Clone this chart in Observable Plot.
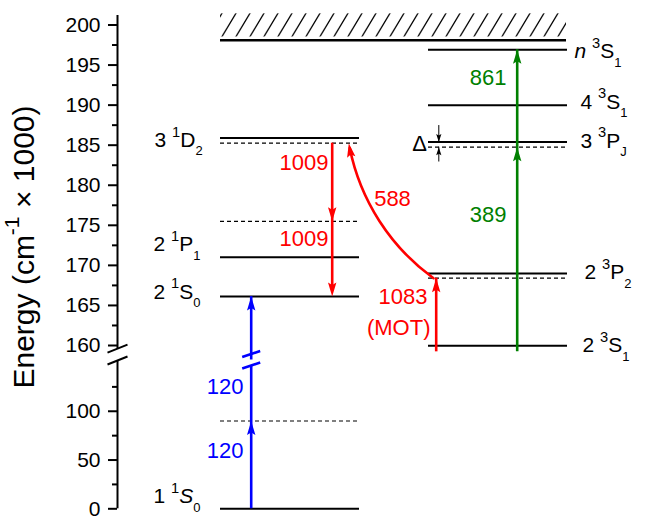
<!DOCTYPE html>
<html><head><meta charset="utf-8">
<script src="https://cdn.jsdelivr.net/npm/d3@7"></script>
<script src="https://cdn.jsdelivr.net/npm/@observablehq/plot@0.6"></script>
<style>body{margin:0;background:#fff} svg{display:block}</style>
</head><body><div id="chart"></div>
<script>
// ---------- data (energies in units of 1000 cm^-1) ----------
const singletStates   = ["1 ^1~S~_0", "2 ^1S_0", "2 ^1P_1", "3 ^1D_2"];
const singletEnergies = [0, 166.1, 171.0, 185.9];
const singletDashed   = [90, 175.5, 185.25];
const tripletStates   = ["2 ^3S_1", "2 ^3P_2", "3 ^3P_J", "4 ^3S_1", "~n~ ^3S_1"];
const tripletEnergies = [159.8, 169.0, 185.4, 190.0, 196.9];
const tripletDashed   = [168.4, 184.75];
const ionizationEnergy = 198.1;
const continuumTop = 201.4;
const wavelengths = ["120", "120", "1009", "1009", "588", "1083", "(MOT)", "389", "861"];
const majorTicks = [0, 50, 100, 160, 165, 170, 175, 180, 185, 190, 195, 200];
const minorTicks = [25, 75, 125, 162.5, 167.5, 172.5, 177.5, 182.5, 187.5, 192.5, 197.5];
const yTitle = "Energy (cm^-^1 \u00d7 1000)";

// ---------- layout ----------
// broken energy axis: lower part 0–150, upper part 160–200
const brokenAxis = d3.scaleLinear().domain([0, 150, 160, 200]).range([508.3, 362, 345, 24.5]);
const col = {singlet: [220, 359], triplet: [428, 567], continuum: [220, 566]};
const axisX = 117;
const colors = {blue: "#0000ff", red: "#ff0000", green: "#008000"};

const levels = [
  ...singletEnergies.map((E, i) => ({E, x1: col.singlet[0], x2: col.singlet[1], state: singletStates[i]})),
  ...tripletEnergies.map((E, i) => ({E, x1: col.triplet[0], x2: col.triplet[1], state: tripletStates[i]}))
];
const dashed = [
  ...singletDashed.map(E => ({E, x1: col.singlet[0], x2: col.singlet[1]})),
  ...tripletDashed.map(E => ({E, x1: col.triplet[0], x2: col.triplet[1]}))
];
const labelPlace = [ // x, energy of label centre
  [153, 12.6], [153, 166.7], [153, 172.6], [154, 185.6],
  [582, 160.0], [584, 169.1], [580, 185.5], [580, 190.4], [574, 196.7]
];
const levelLabels = levels.map((d, i) => ({text: d.state, x: labelPlace[i][0], E: labelPlace[i][1]}));

const xBlue = 250.7, xRed1 = 331.7, xRed2 = 435.7, xGreen = 516.7;
const segPlain = [{x: xBlue, y1: 0, y2: 146.9, color: colors.blue}];
const segUp = [
  {x: xBlue, y1: 155, y2: singletEnergies[1], color: colors.blue},
  {x: xRed2, y1: tripletEnergies[0], y2: tripletDashed[0], color: colors.red},
  {x: xGreen, y1: tripletEnergies[0], y2: tripletEnergies[4], color: colors.green}
];
const segDown = [{x: xRed1, y1: singletDashed[2], y2: singletEnergies[1], color: colors.red}];
const heads = [
  {x: xBlue, E: singletDashed[0], rot: 0, color: colors.blue},
  {x: xBlue, E: singletEnergies[1], rot: 0, color: colors.blue},
  {x: xRed1, E: singletDashed[1], rot: 180, color: colors.red},
  {x: xRed1, E: singletEnergies[1], rot: 180, color: colors.red},
  {x: xRed2, E: tripletDashed[0], rot: 0, color: colors.red},
  {x: xGreen, E: tripletDashed[1], rot: 0, color: colors.green},
  {x: xGreen, E: tripletEnergies[4], rot: 0, color: colors.green},
  {x: 348.3, E: singletDashed[2], rot: -10, color: colors.red}
];
const curve = [{x1: 433, y1: tripletDashed[0], x2: 348.3, y2: singletDashed[2]}];
const blueBreaks = [{x: xBlue, E: 155}, {x: xBlue, E: 146.9}];
const axisBreaks = [{x: axisX, E: 158.2}, {x: axisX, E: 151.2}];
const axisLines = [{y1: 158.2, y2: continuumTop - 0.2}, {y1: 0, y2: 151.2}];
const deltaX = 438.3;
const deltaSegs = [{y1: 187.45, y2: tripletEnergies[2]}, {y1: 182.9, y2: tripletDashed[1]}];
const deltaHeads = [{E: tripletEnergies[2], rot: 180}, {E: tripletDashed[1], rot: 0}];

const numLabels = [
  {text: wavelengths[0], x: 243, E: 125.4, color: colors.blue},
  {text: wavelengths[1], x: 243, E: 59.8, color: colors.blue},
  {text: wavelengths[2], x: 328, E: 182.8, color: colors.red},
  {text: wavelengths[3], x: 328, E: 173.3, color: colors.red},
  {text: wavelengths[5], x: 427, E: 166.0, color: colors.red},
  {text: wavelengths[6], x: 430, E: 162.2, color: colors.red},
  {text: wavelengths[7], x: 506, E: 176.3, color: colors.green},
  {text: wavelengths[8], x: 506, E: 193.4, color: colors.green}
];
const midLabels = [
  {text: wavelengths[4], x: 392, E: 178.3, color: colors.red},
  {text: "\u0394", x: 419, E: 185.1, color: "black"}
];

const headSymbol = {draw(c) { c.moveTo(0, 0); c.lineTo(4.2, 14); c.lineTo(0, 11.5); c.lineTo(-4.2, 14); c.closePath(); }};
const smallHead = {draw(c) { c.moveTo(0, 0); c.lineTo(2.6, 8); c.lineTo(0, 6.5); c.lineTo(-2.6, 8); c.closePath(); }};
const slashSymbol = {draw(c) { c.moveTo(-9, 3); c.lineTo(9, -3); }};
const axisSlash = {draw(c) { c.moveTo(-10, 4); c.lineTo(10, -4); }};

const plot = Plot.plot({
  width: 645, height: 517,
  marginLeft: axisX, marginRight: 0, marginTop: 0, marginBottom: 0,
  x: {domain: [axisX, 645], axis: null},
  y: {type: "linear", transform: (E) => brokenAxis(E), domain: [517, 0], range: [517, 0], axis: null},
  color: {type: "identity"},
  style: {fontFamily: "'Liberation Sans', Arial, sans-serif", color: "black", background: "white"},
  marks: [
    Plot.rect([{x1: col.continuum[0], x2: col.continuum[1], y1: ionizationEnergy + 0.4, y2: continuumTop}],
      {x1: "x1", x2: "x2", y1: "y1", y2: "y2", fill: "url(#hatch)"}),
    Plot.ruleY([{E: ionizationEnergy, x1: col.continuum[0], x2: col.continuum[1]}], {y: "E", x1: "x1", x2: "x2", stroke: "black", strokeWidth: 2.5}),
    Plot.ruleY(levels, {y: "E", x1: "x1", x2: "x2", stroke: "black", strokeWidth: 2}),
    Plot.ruleY(dashed, {y: "E", x1: "x1", x2: "x2", stroke: "black", strokeWidth: 1.2, strokeDasharray: "4,3"}),
    // broken energy axis
    Plot.ruleX(axisLines, {x: axisX, y1: "y1", y2: "y2", stroke: "black", strokeWidth: 2}),
    Plot.ruleY(majorTicks, {y: (d) => d, x1: axisX - 9, x2: axisX, stroke: "black", strokeWidth: 2}),
    Plot.ruleY(minorTicks, {y: (d) => d, x1: axisX - 5, x2: axisX, stroke: "black", strokeWidth: 2}),
    Plot.text(majorTicks, {y: (d) => d, x: axisX - 17, text: (d) => String(d), textAnchor: "end", fontSize: 21, fill: "black"}),
    Plot.dot(axisBreaks, {x: "x", y: "E", symbol: axisSlash, stroke: "black", fill: "none", strokeWidth: 2}),
    Plot.text([yTitle], {frameAnchor: "left", textAnchor: "middle", dx: -93, dy: -12, rotate: -90, fontSize: 30}),
    // transitions
    Plot.ruleX(segPlain, {x: "x", y1: "y1", y2: "y2", stroke: "color", strokeWidth: 2.6}),
    Plot.ruleX(segUp, {x: "x", y1: "y1", y2: "y2", stroke: "color", strokeWidth: 2.6, insetTop: 6}),
    Plot.ruleX(segDown, {x: "x", y1: "y1", y2: "y2", stroke: "color", strokeWidth: 2.6, insetBottom: 6}),
    Plot.arrow(curve, {x1: "x1", y1: "y1", x2: "x2", y2: "y2", bend: 22, headLength: 0, insetEnd: 5, stroke: colors.red, strokeWidth: 2.6}),
    Plot.dot(heads, {x: "x", y: "E", symbol: headSymbol, fill: "color", stroke: null, rotate: "rot"}),
    Plot.dot(blueBreaks, {x: "x", y: "E", symbol: slashSymbol, stroke: colors.blue, fill: "none", strokeWidth: 2.6}),
    // delta marker
    Plot.ruleX(deltaSegs, {x: deltaX, y1: "y1", y2: "y2", stroke: "black", strokeWidth: 1}),
    Plot.dot(deltaHeads, {x: deltaX, y: "E", symbol: smallHead, fill: "black", stroke: null, rotate: "rot"}),
    // labels
    Plot.text(levelLabels, {x: "x", y: "E", text: "text", textAnchor: "start", fontSize: 21, fill: "black"}),
    Plot.text(numLabels, {x: "x", y: "E", text: "text", textAnchor: "end", fontSize: 22, fill: "color"}),
    Plot.text(midLabels, {x: "x", y: "E", text: "text", textAnchor: "middle", fontSize: 22, fill: "color"})
  ]
});
document.getElementById("chart").appendChild(plot);

// hatch pattern for the continuum
const hTop = brokenAxis(continuumTop), hBot = brokenAxis(ionizationEnergy + 0.4);
const h = hBot - hTop;
const pat = d3.select(plot).insert("defs", ":first-child").append("pattern")
  .attr("id", "hatch").attr("patternUnits", "userSpaceOnUse")
  .attr("x", 222).attr("y", hTop).attr("width", 14).attr("height", h);
pat.append("path").attr("d", `M0,${h}L14,0M-14,${h}L0,0M14,${h}L28,0`)
  .attr("stroke", "black").attr("stroke-width", 1.3).attr("fill", "none");

// rich text: ^x superscript, _x subscript, ~...~ italic
d3.select(plot).selectAll("text").each(function () {
  const s = this.textContent;
  if (!/[\^_~]/.test(s)) return;
  const fs = parseFloat(getComputedStyle(this).fontSize) || 20;
  this.textContent = "";
  let shift = 0, italic = false;
  for (let i = 0; i < s.length; i++) {
    let ch = s[i];
    if (ch === "~") { italic = !italic; continue; }
    let mode = "n";
    if (ch === "^" || ch === "_") { mode = ch; ch = s[++i]; }
    const target = mode === "^" ? -0.5 * fs : mode === "_" ? 0.4 * fs : 0;
    const t = document.createElementNS("http://www.w3.org/2000/svg", "tspan");
    if (Math.abs(target - shift) > 0.01) t.setAttribute("dy", (target - shift).toFixed(2));
    shift = target;
    if (mode === "^") t.setAttribute("font-size", (0.7 * fs).toFixed(1));
    if (mode === "_") t.setAttribute("font-size", (0.62 * fs).toFixed(1));
    if (italic) t.setAttribute("font-style", "italic");
    t.textContent = ch;
    this.appendChild(t);
  }
});
</script>
</body></html>
